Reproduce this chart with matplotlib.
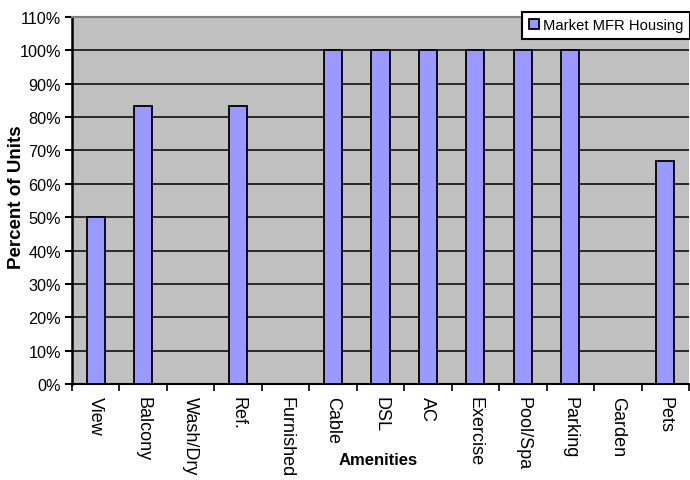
import matplotlib
matplotlib.use("Agg")
import matplotlib.pyplot as plt
import numpy as np
from matplotlib.ticker import FuncFormatter, MultipleLocator, FixedLocator

plt.rcParams['font.family'] = ['Liberation Sans', 'DejaVu Sans']

amenities = ["View", "Balcony", "Wash/Dry", "Ref.", "Furnished", "Cable", "DSL",
             "AC", "Exercise", "Pool/Spa", "Parking", "Garden", "Pets"]
market_mfr = [50.0, 83.3, 0, 83.3, 0, 100, 100, 100, 100, 100, 100, 0, 66.7]
series_name = "Market MFR Housing"

fig = plt.figure(figsize=(6.9, 4.81), dpi=100)
ax = fig.add_axes([0.1043, 0.1996, 0.8943, 0.7630])
ax.set_facecolor("#C0C0C0")

x = np.arange(len(amenities))
ax.bar(x, market_mfr, width=0.38, color="#9999FF", edgecolor="black",
       linewidth=1.3, label=series_name, zorder=3)

ax.set_xlim(-0.5, len(amenities) - 0.5)
ax.set_ylim(0, 110)
ax.yaxis.set_major_locator(MultipleLocator(10))
ax.yaxis.set_major_formatter(FuncFormatter(lambda v, p: f"{v:.0f}%"))
ax.grid(axis="y", color="black", linewidth=1.1, zorder=1)

# category labels centred under bars, tick marks on slot boundaries
ax.set_xticks(x)
ax.set_xticklabels(amenities, rotation=-90, fontsize=13, va="top", ha="center")
ax.tick_params(axis="x", length=0, pad=9)
ax.xaxis.set_minor_locator(FixedLocator(np.arange(-0.5, len(amenities), 1.0)))
ax.tick_params(axis="x", which="minor", length=5, width=1.2, direction="out")
ax.tick_params(axis="y", length=5, width=1.5, direction="out", labelsize=11.7, pad=3)

ax.spines["right"].set_visible(False)
ax.spines["top"].set_color("#808080")
ax.spines["top"].set_linewidth(1.5)
ax.spines["left"].set_linewidth(1.8)
ax.spines["bottom"].set_linewidth(1.5)

fig.text(0.0246, 0.590, "Percent of Units", fontsize=13.5, fontweight="bold",
         rotation=90, ha="center", va="center")
fig.text(0.548, 0.0416, "Amenities", fontsize=12, fontweight="bold",
         ha="center", va="center")

leg = ax.legend(loc="upper right", bbox_to_anchor=(1.002, 1.014), fontsize=10.6,
                frameon=True, fancybox=False, edgecolor="black", framealpha=1,
                handlelength=0.7, handleheight=0.7, handletextpad=0.3,
                borderpad=0.45, borderaxespad=0)
leg.get_frame().set_linewidth(1.5)

fig.savefig("out.png", dpi=100)
